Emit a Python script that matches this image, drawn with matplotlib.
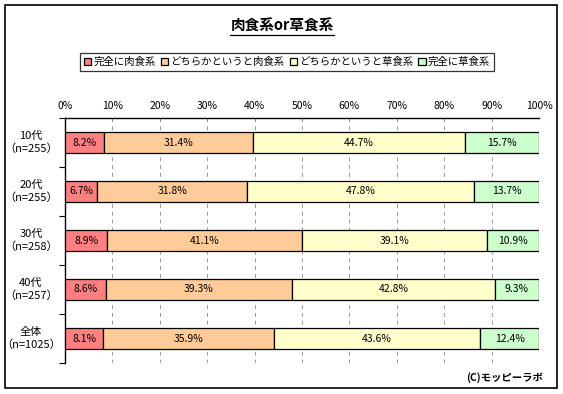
import numpy as np
import matplotlib
matplotlib.use("Agg")
import matplotlib.pyplot as plt
from matplotlib.patches import Rectangle
from matplotlib.lines import Line2D

plt.rcParams['font.family'] = ['Noto Sans CJK JP', 'DejaVu Sans']

# data
groups = ["10代\n（n=255）", "20代\n（n=255）", "30代\n（n=258）", "40代\n（n=257）", "全体\n（n=1025）"]
series = ["完全に肉食系", "どちらかというと肉食系", "どちらかというと草食系", "完全に草食系"]
full_meat = [8.2, 6.7, 8.9, 8.6, 8.1]
some_meat = [31.4, 31.8, 41.1, 39.3, 35.9]
some_herb = [44.7, 47.8, 39.1, 42.8, 43.6]
full_herb = [15.7, 13.7, 10.9, 9.3, 12.4]
colors = ["#FF8080", "#FFCC99", "#FFFFCC", "#CCFFCC"]
xticks = [0, 10, 20, 30, 40, 50, 60, 70, 80, 90, 100]

W, H = 563, 394
fig = plt.figure(figsize=(W / 100, H / 100), dpi=100)

# outer frame
fig.patches.append(Rectangle((5 / W, 1 - 388 / H), 552 / W, 383 / H, transform=fig.transFigure,
                             fill=False, edgecolor="black", linewidth=1.2))

ax = fig.add_axes([65 / W, 1 - 363 / H, 474 / W, 245 / H])

vals = [full_meat, some_meat, some_herb, full_herb]
y = np.arange(len(groups))
left = np.zeros(len(groups))
handles = []
for name, v, c in zip(series, vals, colors):
    b = ax.barh(y, v, left=left, height=0.41, color=c, edgecolor="black", linewidth=0.9,
                label=name, zorder=3)
    for yi, li, vi in zip(y, left, v):
        ax.text(li + vi / 2, yi, f"{vi:.1f}%", ha="center", va="center", fontsize=7.5, zorder=4)
    left = left + np.array(v)
    handles.append(b)

ax.set_xlim(0, 100)
ax.set_ylim(len(groups) - 0.5, -0.5)
ax.xaxis.tick_top()
ax.set_xticks(xticks)
ax.set_xticklabels([f"{t}%" for t in xticks], fontsize=7.5)
ax.tick_params(axis="x", length=0, pad=5)
ax.grid(axis="x", linestyle=(0, (4, 4)), color="#999999", linewidth=0.7, zorder=0)

ax.set_yticks(np.arange(-0.5, len(groups)))
ax.set_yticklabels([])
ax.tick_params(axis="y", which="major", length=4, width=0.8, direction="out")
# category labels, centred left of the axis
for yi, g in zip(y, groups):
    ax.text(-34 / 474, yi, g, transform=ax.get_yaxis_transform(), ha="center", va="center",
            fontsize=8, linespacing=1.3)

for s in ["right", "bottom"]:
    ax.spines[s].set_visible(False)
ax.spines["left"].set_linewidth(1.0)
ax.spines["top"].set_linewidth(1.0)

# title with underline
title = fig.text(282 / W, 1 - 26 / H, "肉食系or草食系", ha="center", va="center",
                 fontsize=10.5, fontweight="bold")
fig.canvas.draw()
bb = title.get_window_extent().transformed(fig.transFigure.inverted())
fig.add_artist(Line2D([bb.x0, bb.x1], [bb.y0 - 0.002, bb.y0 - 0.002], transform=fig.transFigure,
                      color="black", linewidth=0.9))

leg = fig.legend(handles=handles, labels=series, loc="center", bbox_to_anchor=(287 / W, 1 - 62 / H),
                 ncol=4, fontsize=7.5, frameon=True, fancybox=False, edgecolor="black",
                 handlelength=0.7, handleheight=0.7, handletextpad=0.2, columnspacing=0.5,
                 borderpad=0.35, borderaxespad=0)
leg.get_frame().set_linewidth(0.9)

fig.text(543 / W, 1 - 378 / H, "(C)モッピーラボ", ha="right", va="center", fontsize=7.5,
         fontweight="bold")

fig.savefig("out.png", dpi=100)
